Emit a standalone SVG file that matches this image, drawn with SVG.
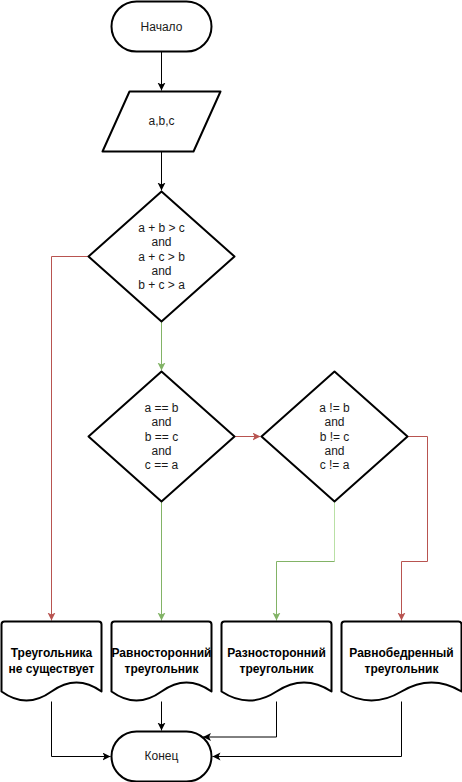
<svg xmlns="http://www.w3.org/2000/svg" width="462" height="782" viewBox="0 0 462 782">
<style>
.sh{fill:#fff;stroke:#000;stroke-width:2;stroke-linejoin:round}
.t{font-family:"Liberation Sans",Arial,sans-serif;font-size:12px;fill:#1a1a1a;text-anchor:middle}
.b{font-weight:bold;fill:#000}
.e{fill:none;stroke-width:1}
.k{stroke:#000}
.r{stroke:#b85450}
.g{stroke:#82b366}
.lg{stroke:#b9e0a5}
</style>
<defs>
<marker id="ak" markerWidth="10" markerHeight="10" refX="8" refY="4" orient="auto" markerUnits="userSpaceOnUse"><path d="M0,0 L8,4 L0,8 L2,4 Z" fill="#000"/></marker>
<marker id="ar" markerWidth="10" markerHeight="10" refX="8" refY="4" orient="auto" markerUnits="userSpaceOnUse"><path d="M0,0 L8,4 L0,8 L2,4 Z" fill="#b85450"/></marker>
<marker id="ag" markerWidth="10" markerHeight="10" refX="8" refY="4" orient="auto" markerUnits="userSpaceOnUse"><path d="M0,0 L8,4 L0,8 L2,4 Z" fill="#82b366"/></marker>
</defs>
<g id="connectors">
<path class="e k" d="M161.5,51.5 V90.5" marker-end="url(#ak)"/>
<path class="e k" d="M161.5,151.5 V190.5" marker-end="url(#ak)"/>
<path class="e r" d="M88.5,256.5 H51.5 V620.5" marker-end="url(#ar)"/>
<path class="e g" d="M161.5,321.5 V370.5" marker-end="url(#ag)"/>
<path class="e r" d="M234.5,436.5 H260.5" marker-end="url(#ar)"/>
<path class="e r" d="M407.5,436.5 H427.5 V561.5 H401.5 V620.5" marker-end="url(#ar)"/>
<path class="e lg" d="M334.5,501.5 V561.5"/>
<path class="e g" d="M334.5,561.5 H276.5 V620.5" marker-end="url(#ag)"/>
<path class="e g" d="M161.5,501.5 V620.5" marker-end="url(#ag)"/>
<path class="e k" d="M51.5,701.5 V756.5 H110.5" marker-end="url(#ak)"/>
<path class="e k" d="M161.5,701.5 V730.5" marker-end="url(#ak)"/>
<path class="e k" d="M276.5,701.5 V737 H203" marker-end="url(#ak)"/>
<path class="e k" d="M401.5,701.5 V756.5 H212.5" marker-end="url(#ak)"/>
</g>
<g id="start">
<rect class="sh" x="111.5" y="1.5" width="100" height="50" rx="25" ry="25"/>
<text class="t" x="161.5" y="30.5">Начало</text>
</g>
<g id="input">
<path class="sh" d="M129.5,91.5 H220.5 L193.5,151.5 H102.5 Z"/>
<text class="t" x="161.5" y="125">a,b,c</text>
</g>
<g id="cond1">
<path class="sh" d="M161.5,191.5 L234.5,256.5 L161.5,321.5 L88.5,256.5 Z"/>
<text class="t" x="161.5" y="231.7">a + b &gt; c</text>
<text class="t" x="161.5" y="246.1">and</text>
<text class="t" x="161.5" y="260.5">a + c &gt; b</text>
<text class="t" x="161.5" y="274.9">and</text>
<text class="t" x="161.5" y="289.3">b + c &gt; a</text>
</g>
<g id="cond2">
<path class="sh" d="M161.5,371.5 L234.5,436.5 L161.5,501.5 L88.5,436.5 Z"/>
<text class="t" x="161.5" y="411.7">a == b</text>
<text class="t" x="161.5" y="426.1">and</text>
<text class="t" x="161.5" y="440.5">b == c</text>
<text class="t" x="161.5" y="454.9">and</text>
<text class="t" x="161.5" y="469.3">c == a</text>
</g>
<g id="cond3">
<path class="sh" d="M334.5,371.5 L407.5,436.5 L334.5,501.5 L261.5,436.5 Z"/>
<text class="t" x="334.5" y="411.7">a != b</text>
<text class="t" x="334.5" y="426.1">and</text>
<text class="t" x="334.5" y="440.5">b != c</text>
<text class="t" x="334.5" y="454.9">and</text>
<text class="t" x="334.5" y="469.3">c != a</text>
</g>
<g id="out1">
<path class="sh" d="M1.5,624.5 Q1.5,621.5 4.5,621.5 H98.5 Q101.5,621.5 101.5,624.5 V691.5 Q76.5,673.5 51.5,691.5 Q26.5,709.5 1.5,691.5 Z"/>
<text class="t b" x="51.5" y="657">Треугольника</text>
<text class="t b" x="51.5" y="673">не существует</text>
</g>
<g id="out2">
<path class="sh" d="M111.5,624.5 Q111.5,621.5 114.5,621.5 H208.5 Q211.5,621.5 211.5,624.5 V691.5 Q186.5,673.5 161.5,691.5 Q136.5,709.5 111.5,691.5 Z"/>
<text class="t b" x="161.5" y="657">Равносторонний</text>
<text class="t b" x="161.5" y="673">треугольник</text>
</g>
<g id="out3">
<path class="sh" d="M221.5,624.5 Q221.5,621.5 224.5,621.5 H328.5 Q331.5,621.5 331.5,624.5 V691.5 Q304,673.5 276.5,691.5 Q249,709.5 221.5,691.5 Z"/>
<text class="t b" x="276.5" y="657">Разносторонний</text>
<text class="t b" x="276.5" y="673">треугольник</text>
</g>
<g id="out4">
<path class="sh" d="M341.5,624.5 Q341.5,621.5 344.5,621.5 H458.5 Q461.5,621.5 461.5,624.5 V691.5 Q431.5,673.5 401.5,691.5 Q371.5,709.5 341.5,691.5 Z"/>
<text class="t b" x="401.5" y="657">Равнобедренный</text>
<text class="t b" x="401.5" y="673">треугольник</text>
</g>
<g id="end">
<rect class="sh" x="111.5" y="731.5" width="100" height="50" rx="25" ry="25"/>
<text class="t" x="161.5" y="760">Конец</text>
</g>
</svg>
